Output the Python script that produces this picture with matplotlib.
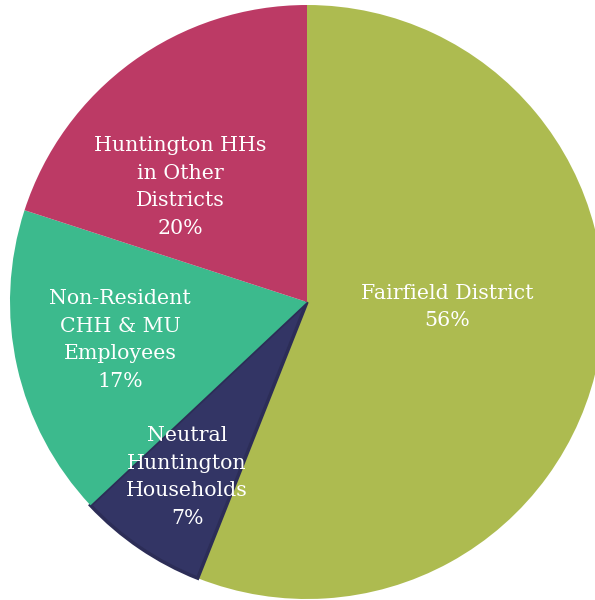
import matplotlib.pyplot as plt

labels = ['Fairfield District', 'Neutral\nHuntington\nHouseholds',
          'Non-Resident\nCHH & MU\nEmployees', 'Huntington HHs\nin Other\nDistricts']
shares = [56, 7, 17, 20]
colors = ['#adbb50', '#333565', '#3cba8d', '#bc3a65']

# where each label block sits, in pie radius units from the centre
label_pos = [(0.471, -0.017), (-0.404, -0.589), (-0.63, -0.128), (-0.428, 0.387)]

fig = plt.figure(figsize=(5.95, 6.0), dpi=100)
ax = fig.add_axes([0, 0, 1, 1])

wedges, _ = ax.pie(shares, colors=colors, startangle=90, counterclock=False,
                   radius=1.0, wedgeprops=dict(linewidth=0))
# darker rim on the small navy slice
wedges[1].set_edgecolor('#2c2d57')
wedges[1].set_linewidth(2.5)

for lab, val, (x, y) in zip(labels, shares, label_pos):
    ax.text(x, y, f'{lab}\n{val}%', ha='center', va='center', color='white',
            fontsize=14.8, family='DejaVu Serif', linespacing=1.56)

# pie centre at (307, 302) px from top-left, radius 297 px
r = 297
ax.set_xlim(-307 / r, (595 - 307) / r)
ax.set_ylim(-(600 - 302) / r, 302 / r)
ax.set_aspect('auto')
ax.axis('off')

fig.savefig('out.png', dpi=100)
